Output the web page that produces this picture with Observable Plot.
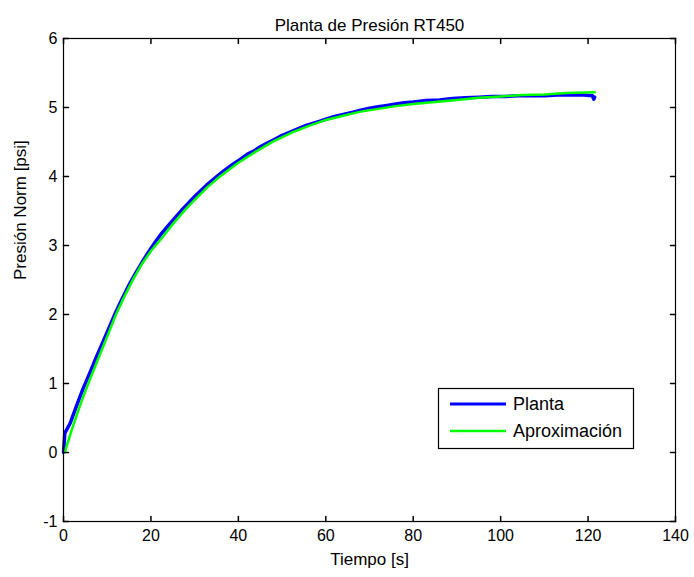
<!DOCTYPE html>
<html>
<head>
<meta charset="utf-8">
<script src="https://cdn.jsdelivr.net/npm/d3@7"></script>
<script src="https://cdn.jsdelivr.net/npm/@observablehq/plot@0.6"></script>
<style>
  html, body { margin: 0; padding: 0; background: #fff; }
  #chart { position: relative; width: 694px; height: 577px; }
</style>
</head>
<body>
<div id="chart"></div>
<script>
// ---- data ----
const title = "Planta de Presión RT450";
const xLabel = "Tiempo [s]";
const yLabel = "Presión Norm [psi]";
const xTicks = [0, 20, 40, 60, 80, 100, 120, 140];
const yTicks = [-1, 0, 1, 2, 3, 4, 5, 6];
const seriesNames = ["Planta", "Aproximación"];

const plantaTime = [0, 0.3, 1.5, 3, 4.5, 6, 7.5, 9, 10.5, 12, 13.5, 15, 16.5, 18, 19.5, 21, 22.5, 24, 25.5, 27, 28.5, 30,
  31.5, 33, 34.5, 36, 37.5, 39, 40.5, 42, 43.5, 45, 46.5, 48, 49.5, 51, 52.5, 54, 55.5, 57, 58.5, 60,
  62, 64, 66, 68, 70, 72, 74, 76, 78, 80, 83, 86, 89, 92, 95, 98, 101, 104, 107, 110, 113, 116, 119, 121, 121.3, 121.5];
const plantaValue = [0, 0.28, 0.42, 0.68, 0.93, 1.15, 1.38, 1.60, 1.82, 2.04, 2.24, 2.43, 2.60, 2.76, 2.91, 3.05, 3.18, 3.29, 3.40, 3.51, 3.61, 3.71,
  3.80, 3.89, 3.97, 4.05, 4.12, 4.19, 4.25, 4.32, 4.37, 4.43, 4.48, 4.53, 4.58, 4.62, 4.66, 4.70, 4.74, 4.77, 4.80, 4.83,
  4.87, 4.90, 4.93, 4.96, 4.99, 5.01, 5.03, 5.05, 5.07, 5.08, 5.10, 5.11, 5.13, 5.14, 5.15, 5.16, 5.16, 5.17, 5.17, 5.17, 5.18, 5.18, 5.18, 5.17, 5.12, 5.15];

const approxTime = [0.3, 1, 2, 3, 4, 5, 6, 8, 10, 12, 14, 16, 18, 20, 22, 25, 28, 30, 33, 36, 40, 44, 48, 52, 56, 60,
  64, 68, 72, 76, 80, 85, 90, 95, 100, 105, 110, 115, 121.5];
const approxValue = [0, 0.15, 0.35, 0.54, 0.72, 0.89, 1.05, 1.37, 1.68, 2.0, 2.27, 2.52, 2.74, 2.92, 3.07, 3.31, 3.53, 3.66, 3.85, 4.01, 4.2, 4.36, 4.51, 4.63, 4.73, 4.82,
  4.88, 4.94, 4.98, 5.02, 5.05, 5.08, 5.11, 5.14, 5.16, 5.18, 5.19, 5.21, 5.22];

const colors = ["#0000ff", "#00ff00"];

const planta = plantaTime.map((t, i) => ({t, v: plantaValue[i]}));
const approx = approxTime.map((t, i) => ({t, v: approxValue[i]}));

const font = "'Liberation Sans', Arial, Helvetica, sans-serif";
const tickShape = {draw(context, l) { context.moveTo(0, 0); context.lineTo(0, -l); }};
const tickLen = 5;

const chart = Plot.plot({
  width: 694,
  height: 577,
  marginLeft: 63,
  marginRight: 19,
  marginTop: 38,
  marginBottom: 56,
  style: {fontFamily: font, fontSize: "16px", color: "black", background: "white", overflow: "visible"},
  x: {domain: [0, 140]},
  y: {domain: [-1, 6]},
  marks: [
    Plot.line(planta, {x: "t", y: "v", stroke: colors[0], strokeWidth: 3.5}),
    Plot.line(approx, {x: "t", y: "v", stroke: colors[1], strokeWidth: 2.5}),
    Plot.frame({stroke: "black", strokeWidth: 1.2}),
    // inward ticks on all four sides
    Plot.vector(xTicks, {x: d => d, frameAnchor: "bottom", length: tickLen, rotate: 0, anchor: "start", shape: tickShape, stroke: "black"}),
    Plot.vector(xTicks, {x: d => d, frameAnchor: "top", length: tickLen, rotate: 180, anchor: "start", shape: tickShape, stroke: "black"}),
    Plot.vector(yTicks, {y: d => d, frameAnchor: "left", length: tickLen, rotate: 90, anchor: "start", shape: tickShape, stroke: "black"}),
    Plot.vector(yTicks, {y: d => d, frameAnchor: "right", length: tickLen, rotate: -90, anchor: "start", shape: tickShape, stroke: "black"}),
    // tick labels
    Plot.axisX({ticks: xTicks, tickSize: 0, tickPadding: 8, label: null, fontSize: 16, tickFormat: d => String(d)}),
    Plot.axisY({ticks: yTicks, tickSize: 0, tickPadding: 6, label: null, fontSize: 16, tickFormat: d => String(d)}),
    // titles
    Plot.text([title], {frameAnchor: "top", dy: -20, fontSize: 17}),
    Plot.text([xLabel], {frameAnchor: "bottom", dy: 43, fontSize: 17}),
    Plot.text([yLabel], {frameAnchor: "left", dx: -43, rotate: -90, fontSize: 17})
  ]
});

document.getElementById("chart").appendChild(chart);

// legend box inside the axes (bottom right)
const svg = d3.select(chart);
const lg = svg.append("g").attr("font-family", font).attr("font-size", 18).attr("text-anchor", "start");
lg.append("rect").attr("x", 438.5).attr("y", 388.5).attr("width", 195).attr("height", 60)
  .attr("fill", "white").attr("stroke", "black").attr("stroke-width", 1.2);
seriesNames.forEach((name, i) => {
  const y = 404 + i * 27;
  lg.append("line").attr("x1", 450).attr("x2", 506).attr("y1", y).attr("y2", y)
    .attr("stroke", colors[i]).attr("stroke-width", i === 0 ? 3 : 2.5);
  lg.append("text").attr("x", 513).attr("y", y).attr("dy", "0.35em").attr("fill", "black").text(name);
});
</script>
</body>
</html>
